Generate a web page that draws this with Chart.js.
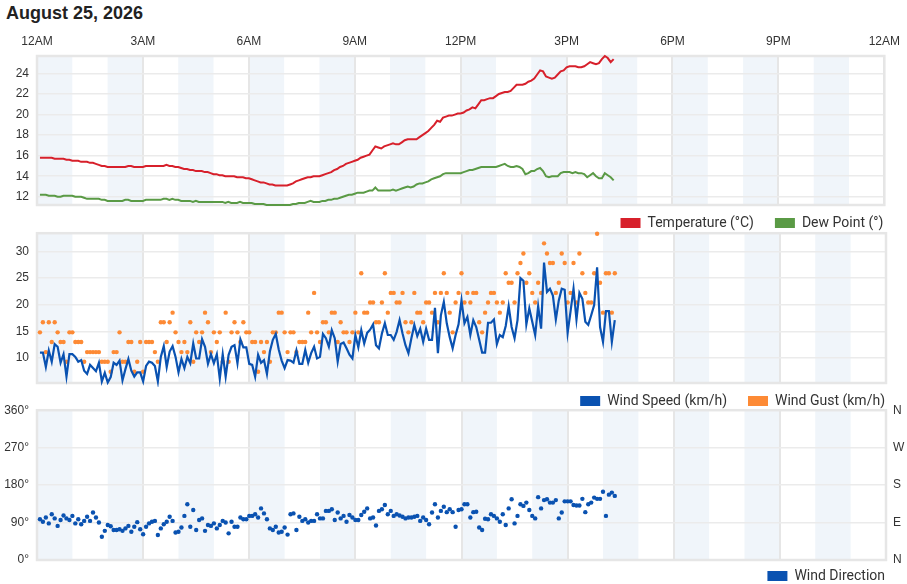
<!DOCTYPE html>
<html><head><meta charset="utf-8">
<script src="https://cdn.jsdelivr.net/npm/chart.js@4.4.1/dist/chart.umd.min.js"></script>
<style>
html,body{margin:0;padding:0;background:#fff;overflow:hidden;width:907px;height:584px;}
#title{position:absolute;left:6px;top:3px;font:bold 18px "Liberation Sans",Arial,sans-serif;color:#222;}
.box{position:absolute;left:0;width:907px;}
</style></head><body>
<div id="title">August 25, 2026</div>
<div class="box" style="top:26px;height:224px"><canvas id="c1"></canvas></div>
<div class="box" style="top:218px;height:210px"><canvas id="c2"></canvas></div>
<div class="box" style="top:395px;height:210px"><canvas id="c3"></canvas></div>
<script>
// ---- data (5-minute observations starting 00:05) ----
const START_MIN = 5, STEP_MIN = 5;
const hourTicks = [0,3,6,9,12,15,18,21,24];
const hourLabels = ['12AM','3AM','6AM','9AM','12PM','3PM','6PM','9PM','12AM'];
const shadedHours = [0,2,4,6,8,10,12,14,16,18,20,22];
const tempTicks = [12,14,16,18,20,22,24];
const windTicks = [10,15,20,25,30];
const dirTicks = [0,90,180,270,360];
const dirLabels = ['0°','90°','180°','270°','360°'];
const compassLabels = ['N','E','S','W','N'];

const temperature = [
15.8,15.8,15.8,15.8,15.8,15.7,15.7,15.7,15.7,15.6,15.6,15.5,
15.5,15.5,15.4,15.4,15.4,15.3,15.3,15.2,15.1,15.0,15.0,14.9,
14.9,14.9,14.9,14.9,14.9,14.9,15.0,15.0,14.9,14.9,14.9,14.9,
15.0,15.0,15.0,15.0,15.0,15.0,15.0,15.1,15.0,15.0,14.9,14.9,
14.8,14.7,14.7,14.6,14.6,14.5,14.5,14.5,14.4,14.4,14.3,14.2,
14.2,14.1,14.1,14.0,14.0,14.0,14.0,13.9,13.9,13.9,13.8,13.8,
13.7,13.6,13.5,13.4,13.4,13.3,13.2,13.2,13.1,13.1,13.1,13.1,
13.1,13.2,13.3,13.5,13.6,13.7,13.8,13.9,13.9,14.0,14.0,14.0,
14.1,14.2,14.3,14.4,14.6,14.7,14.9,15.0,15.2,15.3,15.4,15.5,
15.6,15.8,15.9,16.0,16.1,16.5,16.9,16.8,16.7,16.9,17.0,17.1,
17.2,17.1,17.1,17.3,17.5,17.6,17.6,17.6,17.6,17.8,18.0,18.2,
18.4,18.7,19.0,19.4,19.3,19.7,19.8,19.9,19.9,20.0,20.1,20.1,
20.2,20.4,20.5,20.7,20.6,21.0,21.4,21.4,21.5,21.6,21.6,21.8,
22.0,22.1,22.2,22.2,22.3,22.6,22.9,22.9,22.9,23.0,23.2,23.3,
23.5,23.9,24.3,24.2,23.7,23.6,23.5,23.6,23.9,24.2,24.3,24.6,
24.7,24.7,24.7,24.6,24.6,24.7,24.9,25.1,25.0,24.9,25.0,25.4,
25.7,25.5,25.1,25.4];

const dewPoint = [
12.2,12.2,12.2,12.1,12.1,12.1,12.0,12.0,12.1,12.1,12.1,12.1,
12.0,12.0,12.0,11.9,11.8,11.8,11.8,11.8,11.8,11.7,11.7,11.6,
11.6,11.6,11.6,11.6,11.6,11.7,11.7,11.6,11.6,11.6,11.6,11.6,
11.7,11.7,11.7,11.7,11.7,11.7,11.8,11.8,11.7,11.8,11.7,11.7,
11.6,11.6,11.6,11.6,11.5,11.6,11.5,11.5,11.5,11.5,11.5,11.5,
11.5,11.5,11.5,11.4,11.5,11.4,11.4,11.4,11.5,11.4,11.4,11.4,
11.4,11.3,11.3,11.3,11.3,11.2,11.2,11.2,11.2,11.2,11.2,11.2,
11.2,11.2,11.3,11.3,11.4,11.4,11.4,11.5,11.6,11.5,11.5,11.5,
11.6,11.6,11.7,11.7,11.8,11.8,11.9,12.0,12.1,12.2,12.2,12.3,
12.4,12.4,12.4,12.5,12.6,12.6,12.9,12.6,12.6,12.6,12.6,12.6,
12.7,12.6,12.7,12.8,12.9,13.0,12.9,13.0,13.2,13.3,13.3,13.4,
13.5,13.7,13.8,13.9,14.0,14.2,14.3,14.3,14.3,14.3,14.3,14.3,
14.4,14.5,14.6,14.6,14.7,14.8,14.9,14.9,14.9,14.9,14.9,14.9,
15.0,15.1,15.2,15.0,14.9,14.9,15.0,14.9,14.7,14.2,14.3,14.5,
14.5,14.7,14.8,14.5,14.0,13.9,14.0,14.0,14.0,14.3,14.4,14.4,
14.4,14.3,14.4,14.3,14.3,14.2,13.9,14.1,14.3,14.0,13.8,13.8,
14.3,14.1,13.9,13.6];

const windSpeed = [
11.0,11.0,8.3,11.4,9.3,12.6,12.1,9.1,10.7,6.5,
10.7,10.7,10.2,9.3,9.6,7.6,7.0,8.7,8.1,7.5,
9.1,5.6,7.2,5.4,6.4,9.1,8.7,9.5,5.8,7.9,
9.8,7.6,6.5,7.3,7.3,5.6,8.5,9.3,9.1,8.5,
5.6,10.2,12.2,8.3,11.2,12.2,10.2,7.3,9.8,8.1,
10.2,9.0,12.7,9.9,9.9,13.5,12.1,8.9,10.7,9.0,
10.7,6.1,10.7,6.5,10.6,12.1,12.4,9.0,13.5,12.0,
12.0,8.9,8.7,6.5,10.6,9.1,9.6,7.0,11.2,13.4,
14.5,11.6,9.5,8.1,9.6,9.5,9.1,11.4,8.9,8.9,
11.5,9.1,10.9,12.1,9.9,10.2,
14.5,13.7,12.1,15.2,13.7,9.3,12.6,12.9,11.8,10.6,
9.9,14.3,12.0,15.2,12.7,14.7,15.3,16.3,12.4,11.8,
14.6,16.5,14.3,14.3,13.4,14.9,17.1,14.6,12.4,10.9,
13.7,16.2,14.1,15.5,13.0,15.5,13.4,13.4,19.4,10.9,
18.0,20.5,16.5,13.9,11.8,14.3,16.3,20.8,16.5,17.7,
14.3,17.1,15.8,13.4,11.0,11.0,16.6,16.6,17.2,12.6,
14.3,13.9,16.0,19.7,15.8,13.7,17.1,25.0,24.5,16.3,
19.3,16.8,14.3,19.7,15.5,27.9,22.4,23.0,21.7,17.2,
20.8,23.0,22.8,14.7,18.8,23.0,17.2,22.2,21.1,16.8,
16.2,18.0,19.9,27.0,15.8,13.0,18.8,18.8,13.0,17.1];

const windGust = [
14.8,16.7,11.1,16.7,13.0,16.7,14.8,13.0,13.0,9.3,
14.8,14.8,13.0,13.0,13.0,9.3,11.1,11.1,11.1,11.1,
11.1,9.3,9.3,9.3,7.4,11.1,11.1,14.8,9.3,9.3,
13.0,13.0,7.4,9.3,13.0,7.4,13.0,13.0,13.0,11.1,
9.3,16.7,16.7,13.0,16.7,18.5,14.8,13.0,11.1,13.0,
11.1,16.7,9.3,14.8,13.0,14.8,18.5,16.7,11.1,14.8,
13.0,14.8,9.3,18.5,9.3,14.8,16.7,14.8,13.0,16.7,
14.8,14.8,13.0,13.0,7.4,13.0,11.1,13.0,9.3,14.8,
14.8,18.5,18.5,14.8,11.1,14.8,14.8,11.1,13.0,13.0,
13.0,18.5,14.8,22.2,14.8,13.0,
16.7,16.7,14.8,18.5,18.5,13.0,16.7,14.8,14.8,13.0,
14.8,18.5,14.8,25.9,18.5,18.5,20.4,20.4,16.7,16.7,
20.4,25.9,18.5,22.2,22.2,20.4,20.4,22.2,16.7,14.8,
16.7,22.2,18.5,18.5,16.7,20.4,20.4,18.5,22.2,16.7,
22.2,25.9,22.2,18.5,14.8,20.4,22.2,25.9,20.4,22.2,
20.4,22.2,22.2,16.7,14.8,18.5,20.4,22.2,22.2,20.4,
18.5,20.4,25.9,24.1,24.1,20.4,25.9,27.8,29.6,24.1,
25.9,22.2,20.4,24.1,22.2,31.5,29.6,27.8,27.8,22.2,
24.1,29.6,27.8,20.4,22.2,27.8,20.4,29.6,25.9,22.2,
20.4,20.4,25.9,33.3,24.1,18.5,25.9,25.9,18.5,25.9];

const windDirection = [
98,92,102,88,110,100,82,96,107,100,
96,106,88,98,86,94,104,94,114,102,
90,56,70,84,81,72,72,74,70,76,
82,68,80,91,74,62,80,88,92,94,
60,76,86,92,104,94,66,68,78,106,
134,80,120,72,96,100,70,84,82,88,
76,84,94,90,64,92,80,80,102,98,
98,106,106,110,102,124,112,98,76,72,
80,66,68,78,61,110,112,72,104,94,
98,90,94,94,110,100,
100,118,118,122,96,114,100,106,92,108,
102,96,96,108,116,124,100,102,83,118,
122,132,110,118,106,110,107,104,100,102,
102,104,106,94,102,96,86,114,134,102,
118,128,115,122,115,80,120,122,134,134,
102,115,116,78,72,99,98,110,106,100,
92,110,84,124,146,88,106,134,130,138,
120,106,100,151,124,144,146,138,138,144,
100,114,141,141,141,132,131,131,147,115,
134,138,150,147,147,164,106,157,162,154];

// ---- helpers ----
const hourOf = i => (START_MIN + i * STEP_MIN) / 60;
const toXY = arr => arr.map((v, i) => ({x: hourOf(i), y: v}));

const COLORS = {temp:'#d7202b', dew:'#5a9a45', speed:'#0a52b1', gust:'#fd8a35', dir:'#0a52b1'};
const GRID_H = '#ebebeb', GRID_V = '#e6e6e6', FRAME = '#e6e6e6', BAND = '#f0f5fa';
const TEXT = '#333';

Chart.defaults.font.family = '"Liberation Sans", Arial, sans-serif';
Chart.defaults.font.size = 12;
Chart.defaults.color = TEXT;

function makePanelPlugin(legendLift) {
  return {
    id: 'panel',
    beforeDraw(chart) {
      const {ctx, chartArea: a, scales: {x}} = chart;
      ctx.save();
      ctx.fillStyle = BAND;
      shadedHours.forEach(h => {
        const x0 = x.getPixelForValue(h), x1 = x.getPixelForValue(h + 1);
        ctx.fillRect(x0, a.top, x1 - x0, a.bottom - a.top);
      });
      ctx.restore();
    },
    beforeDatasetsDraw(chart) {
      const {ctx, chartArea: a} = chart;
      ctx.save();
      ctx.strokeStyle = FRAME;
      ctx.lineWidth = 2.5;
      ctx.strokeRect(a.left, a.top, a.right - a.left, a.bottom - a.top);
      ctx.restore();
    },
    afterLayout(chart) {
      const lg = chart.legend;
      if (lg) { lg.left += 20; lg.right += 20; lg.top -= legendLift; lg.bottom -= legendLift; }
    }
  };
}

function xScale(showLabels, height) {
  return {
    type: 'linear', position: 'top', min: 0, max: 24,
    afterBuildTicks: s => { s.ticks = hourTicks.map(v => ({value: v})); },
    afterFit: s => { s.height = height; },
    ticks: {display: showLabels, padding: 7, autoSkip: false, maxRotation: 0,
            callback: v => hourLabels[hourTicks.indexOf(v)], color: TEXT, font: {size: 12}},
    grid: {color: GRID_V, lineWidth: 2, drawTicks: false},
    border: {display: false}
  };
}
function yScale(min, max, tickVals, cb) {
  return {
    type: 'linear', position: 'left', min, max,
    afterBuildTicks: s => { s.ticks = tickVals.map(v => ({value: v})); },
    afterFit: s => { s.width = 37; },
    ticks: {padding: 8, callback: cb, color: TEXT, font: {size: 12}},
    grid: {color: GRID_H, lineWidth: 1.5, drawTicks: false},
    border: {display: false}
  };
}
function legendOpts() {
  return {
    position: 'bottom', align: 'end', fullSize: false,
    labels: {
      boxWidth: 20, boxHeight: 10, padding: 21, color: TEXT,
      font: {family: 'Roboto, "Liberation Sans", Arial, sans-serif', size: 14},
      generateLabels: c => Chart.defaults.plugins.legend.labels.generateLabels(c).map(l => ({...l, lineWidth: 0}))
    }
  };
}
const base = {
  responsive: true, maintainAspectRatio: false, animation: false, events: [],
  plugins: {tooltip: {enabled: false}, legend: legendOpts()}
};

new Chart(document.getElementById('c1'), {
  type: 'line',
  data: {datasets: [
    {label: 'Temperature (°C)', data: toXY(temperature), borderColor: COLORS.temp, backgroundColor: COLORS.temp, borderWidth: 2, pointRadius: 0, clip: 4},
    {label: 'Dew Point (°)', data: toXY(dewPoint), borderColor: COLORS.dew, backgroundColor: COLORS.dew, borderWidth: 2, pointRadius: 0, clip: 4}
  ]},
  options: {...base, layout: {padding: {right: 21}},
    scales: {x: xScale(true, 30), y: yScale(11.2, 25.7, tempTicks, v => String(v))}},
  plugins: [makePanelPlugin(10)]
});

new Chart(document.getElementById('c2'), {
  type: 'line',
  data: {datasets: [
    {label: 'Wind Speed (km/h)', data: toXY(windSpeed), borderColor: COLORS.speed, backgroundColor: COLORS.speed, borderWidth: 2.2, pointRadius: 0, clip: 4},
    {label: 'Wind Gust (km/h)', data: toXY(windGust), showLine: false, borderColor: COLORS.gust, backgroundColor: COLORS.gust, pointRadius: 2.2, pointBorderWidth: 0, clip: 4}
  ]},
  options: {...base, layout: {padding: {right: 21}},
    scales: {x: xScale(false, 8), y: yScale(5.3, 33.4, windTicks, v => String(v))}},
  plugins: [makePanelPlugin(10)]
});

new Chart(document.getElementById('c3'), {
  type: 'line',
  data: {datasets: [
    {label: 'Wind Direction', data: toXY(windDirection), showLine: false, borderColor: COLORS.dir, backgroundColor: COLORS.dir, pointRadius: 2.2, pointBorderWidth: 0, clip: 4}
  ]},
  options: {...base,
    scales: {
      x: xScale(false, 8),
      y: yScale(0, 360, dirTicks, v => dirLabels[dirTicks.indexOf(v)]),
      y2: {type: 'linear', position: 'right', min: 0, max: 360,
        afterBuildTicks: s => { s.ticks = dirTicks.map(v => ({value: v})); },
        afterFit: s => { s.width = 21; },
        ticks: {padding: 7, callback: v => compassLabels[dirTicks.indexOf(v)], color: TEXT, font: {size: 12}},
        grid: {display: false, drawTicks: false}, border: {display: false}}
    }},
  plugins: [makePanelPlugin(12)]
});
</script>
</body></html>
